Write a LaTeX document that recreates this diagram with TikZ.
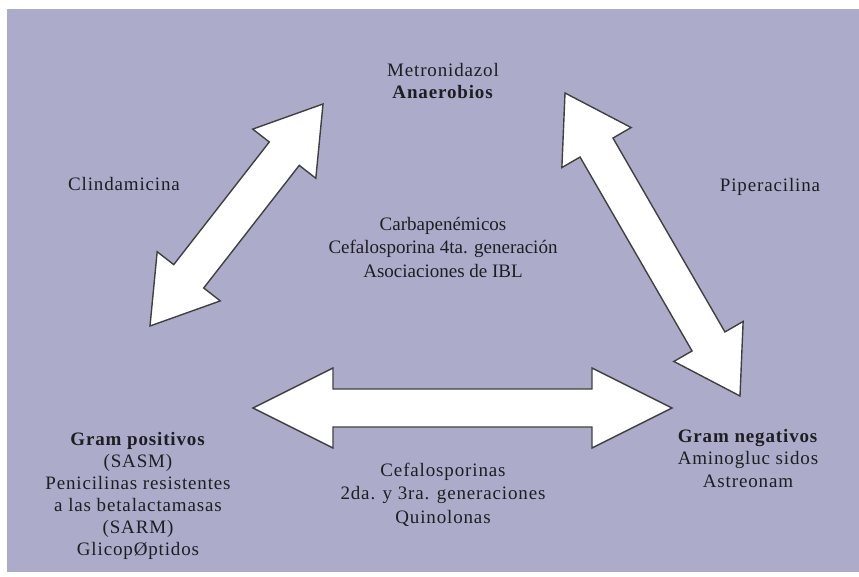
\documentclass[tikz,border=0pt]{standalone}
\usepackage{fontspec}
\setmainfont{Liberation Serif}
\newfontfamily\spaced[LetterSpace=4.5]{Liberation Serif}
\usetikzlibrary{calc}
\definecolor{lavbg}{RGB}{172,172,202}
\definecolor{ink}{RGB}{30,30,34}

% double-headed block arrow between two coordinates (#1 = head length)
\newcommand{\dblarrow}[3][63]{%
  \draw[blockarr] let \p1=($(#3)-(#2)$), \n1={atan2(\y1,\x1)} in
    (#2) -- ($(#2)+(\n1:#1pt)+(\n1+90:40pt)$) -- ($(#2)+(\n1:#1pt)+(\n1+90:19pt)$)
    -- ($(#3)+(\n1:-#1pt)+(\n1+90:19pt)$) -- ($(#3)+(\n1:-#1pt)+(\n1+90:40pt)$)
    -- (#3) -- ($(#3)+(\n1:-#1pt)+(\n1-90:40pt)$) -- ($(#3)+(\n1:-#1pt)+(\n1-90:19pt)$)
    -- ($(#2)+(\n1:#1pt)+(\n1-90:19pt)$) -- ($(#2)+(\n1:#1pt)+(\n1-90:40pt)$) -- cycle;}

\begin{document}
\begin{tikzpicture}[x=1pt, y=-1pt,
  lbl/.style={anchor=base, align=center, inner sep=0pt, text=ink,
              font=\spaced\fontsize{19}{22.5}\selectfont},
  plain/.style={anchor=base, align=center, inner sep=0pt, text=ink,
              font=\fontsize{19}{23.5}\selectfont},
  blockarr/.style={draw=black!75, fill=white, line width=1.4pt, line join=miter},
]
\useasboundingbox (0,0) rectangle (859,577);
\fill[lavbg] (7,9) rectangle (859,572);

% texts (base = last line)
\node[lbl] (ana) at (443,99) {Metronidazol\\\textbf{Anaerobios}};
\node[lbl] (clin) at (124,191) {Clindamicina};
\node[lbl] (pip) at (770,192) {Piperacilina};
\node[plain] (mid) at (443,277) {Carbapenémicos\\Cefalosporina 4ta. generación\\Asociaciones de IBL};
\node[lbl, font=\spaced\fontsize{19}{22}\selectfont] (pos) at (138,555)
  {\textbf{Gram positivos}\\(SASM)\\Penicilinas resistentes\\a las betalactamasas\\(SARM)\\GlicopØptidos};
\node[lbl] (neg) at (748,487) {\textbf{Gram negativos}\\Aminogluc sidos\\Astreonam};
\node[lbl, font=\spaced\fontsize{19}{23.5}\selectfont] (cef) at (443,523)
  {Cefalosporinas\\2da. y 3ra. generaciones\\Quinolonas};

% arrow ends
\coordinate (posA) at (150,326);
\coordinate (anaL) at (323,104);
\coordinate (anaR) at (565,93);
\coordinate (negA) at (740,396);
\coordinate (posB) at (253,408);
\coordinate (negB) at (672,408);

\dblarrow{posA}{anaL}
\dblarrow{anaR}{negA}
\dblarrow[80]{posB}{negB}
\end{tikzpicture}
\end{document}
